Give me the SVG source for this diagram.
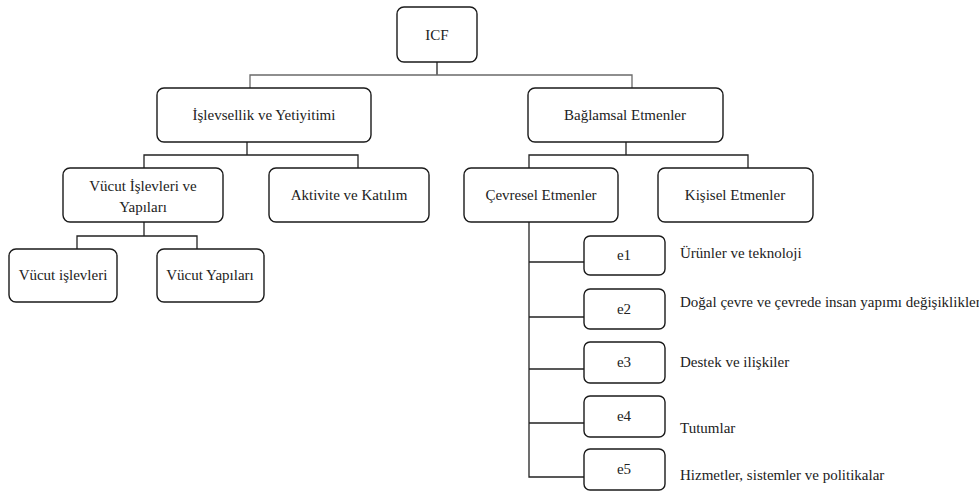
<svg xmlns="http://www.w3.org/2000/svg" width="979" height="493" viewBox="0 0 979 493">
<style>
.b{fill:#fff;stroke:#1a1a1a;stroke-width:1.4}
.t{font-family:'Liberation Serif','Times New Roman','DejaVu Serif',serif;font-size:15px;fill:#222;text-anchor:middle;dominant-baseline:central}
.l{font-family:'Liberation Serif','Times New Roman','DejaVu Serif',serif;font-size:15px;fill:#222;dominant-baseline:central}
.c{fill:none;stroke:#222;stroke-width:1.3}
</style>
<rect width="979" height="493" fill="#fff"/>
<g id="connectors">
<path class="c" d="M437,62V75" />
<path class="c" style="stroke:#6a6a6a" d="M250,88V75H632V88"/>
<path class="c" d="M247,142V155M144,168V155H358V168"/>
<path class="c" d="M626,142V155M529,168V155H748V168"/>
<path class="c" d="M144,222V236M77,249V236H197V249"/>
<path class="c" d="M529,222V477H584M529,262H584M529,317H584M529,369H584M529,423H584"/>
</g>
<g font-family="Liberation Serif, serif">
<g id="icf"><rect class="b" x="397" y="7" width="80" height="55" rx="7"/><text class="t" x="437" y="35">ICF</text></g>
<g id="islevsellik"><rect class="b" x="157" y="88" width="214" height="54" rx="7"/><text class="t" x="264" y="115">İşlevsellik ve Yetiyitimi</text></g>
<g id="baglamsal"><rect class="b" x="528" y="88" width="195" height="54" rx="7"/><text class="t" x="625" y="115">Bağlamsal Etmenler</text></g>
<g id="vucut-islevleri-yapilari"><rect class="b" x="63" y="168" width="160" height="54" rx="7"/><text class="t" x="143" y="186">Vücut İşlevleri ve</text><text class="t" x="143" y="207">Yapıları</text></g>
<g id="aktivite"><rect class="b" x="269" y="168" width="160" height="54" rx="7"/><text class="t" x="349" y="195">Aktivite ve Katılım</text></g>
<g id="cevresel"><rect class="b" x="464" y="168" width="154" height="54" rx="7"/><text class="t" x="541" y="195">Çevresel Etmenler</text></g>
<g id="kisisel"><rect class="b" x="658" y="168" width="155" height="54" rx="7"/><text class="t" x="735" y="195">Kişisel Etmenler</text></g>
<g id="vucut-islevleri"><rect class="b" x="9" y="249" width="108" height="53" rx="7"/><text class="t" x="63" y="275">Vücut işlevleri</text></g>
<g id="vucut-yapilari"><rect class="b" x="157" y="249" width="107" height="53" rx="7"/><text class="t" x="210" y="275">Vücut Yapıları</text></g>
<g id="e1"><rect class="b" x="584" y="236" width="81" height="39" rx="6"/><text class="t" x="624" y="255">e1</text><text class="l" x="680" y="253">Ürünler ve teknoloji</text></g>
<g id="e2"><rect class="b" x="584" y="289" width="81" height="40" rx="6"/><text class="t" x="624" y="309">e2</text><text class="l" x="680" y="302">Doğal çevre ve çevrede insan yapımı değişiklikler</text></g>
<g id="e3"><rect class="b" x="584" y="342" width="81" height="41" rx="6"/><text class="t" x="624" y="362">e3</text><text class="l" x="680" y="362">Destek ve ilişkiler</text></g>
<g id="e4"><rect class="b" x="584" y="396" width="81" height="41" rx="6"/><text class="t" x="624" y="416">e4</text><text class="l" x="680" y="428">Tutumlar</text></g>
<g id="e5"><rect class="b" x="584" y="449" width="81" height="41" rx="6"/><text class="t" x="624" y="469">e5</text><text class="l" x="680" y="475">Hizmetler, sistemler ve politikalar</text></g>
</g>
</svg>
